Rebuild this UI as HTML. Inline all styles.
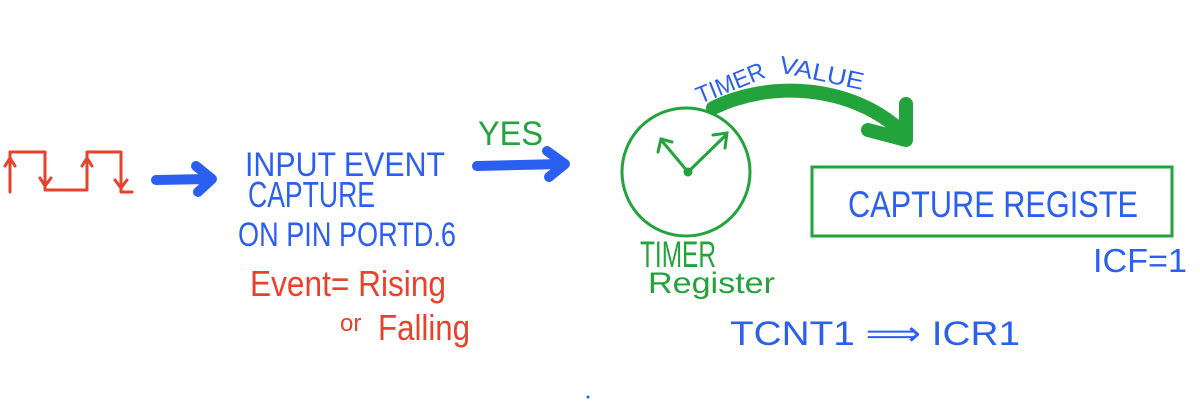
<!DOCTYPE html>
<html><head><meta charset="utf-8"><style>
html,body{margin:0;padding:0;background:#fff;}
svg{display:block}
text{font-family:"Liberation Sans",sans-serif;}
</style></head><body>
<svg width="1200" height="408" viewBox="0 0 1200 408" xmlns="http://www.w3.org/2000/svg">
<!-- square wave -->
<g stroke="#e8412c" stroke-width="3" fill="none" stroke-linecap="round" stroke-linejoin="round">
<path d="M10 192 L10 152 L45 152 L45 190 L87 190 L87 152 L121 152 L121 192 L132 192"/>
<path d="M5 166 L10 158 L15 166"/>
<path d="M40 178 L45 186 L51 178"/>
<path d="M82 166 L87 158 L92 166"/>
<path d="M115 180 L121 188 L127 180"/>
</g>
<!-- blue arrows -->
<g stroke="#2b5ff0" stroke-width="10" fill="none" stroke-linecap="round" stroke-linejoin="round">
<path d="M156 180 L210 179"/>
<path d="M196 166 L212 179 L198 192"/>
<path d="M477 166 L562 164"/>
<path d="M547 151 L565 164 L549 177"/>
</g>
<g fill="#2b5ff0" font-size="34">
<text x="245" y="176" textLength="200" lengthAdjust="spacingAndGlyphs">INPUT EVENT</text>
<text x="248" y="207" font-size="36" textLength="127" lengthAdjust="spacingAndGlyphs">CAPTURE</text>
<text x="238" y="246" textLength="218" lengthAdjust="spacingAndGlyphs">ON PIN PORTD.6</text>
<text x="848" y="217" font-size="37" textLength="290" lengthAdjust="spacingAndGlyphs">CAPTURE REGISTE</text>
<text x="1093" y="272" font-size="33" textLength="94" lengthAdjust="spacingAndGlyphs">ICF=1</text>
<text x="730" y="345" font-size="34" textLength="290" lengthAdjust="spacingAndGlyphs">TCNT1 ⟹ ICR1</text>
<text font-size="24" transform="translate(700,104) rotate(-22)" textLength="72" lengthAdjust="spacingAndGlyphs">TIMER</text>
<text font-size="24" transform="translate(778,72) rotate(12)" textLength="86" lengthAdjust="spacingAndGlyphs">VALUE</text>
</g>
<g fill="#e8412c" font-size="36">
<text x="250" y="296" textLength="196" lengthAdjust="spacingAndGlyphs">Event= Rising</text>
<text x="340" y="331" font-size="24">or</text>
<text x="378" y="340" textLength="92" lengthAdjust="spacingAndGlyphs">Falling</text>
</g>
<text x="478" y="145" fill="#23a33b" font-size="34" textLength="65" lengthAdjust="spacingAndGlyphs">YES</text>
<!-- clock -->
<g stroke="#23a33b" stroke-width="3" fill="none" stroke-linecap="round">
<circle cx="686" cy="172" r="64"/>
<circle cx="688" cy="172" r="3"/>
<path d="M688 172 L662 141 M658 152 L661 139 L672 142"/>
<path d="M688 172 L726 135 M713 135 L727 133 L725 148"/>
<rect x="812" y="167" width="360" height="69"/>
</g>
<!-- green curved arrow -->
<g stroke="#23a33b" stroke-width="14" fill="none" stroke-linecap="round" stroke-linejoin="round">
<path d="M713 108 C770 80 850 85 900 130"/>
<path d="M868 130 L906 140 L906 104"/>
</g>
<g fill="#23a33b" font-size="37">
<text x="640" y="267" textLength="76" lengthAdjust="spacingAndGlyphs">TIMER</text>
<text x="648" y="293" font-size="30" textLength="127" lengthAdjust="spacingAndGlyphs">Register</text>
</g>
<circle cx="588" cy="397" r="1.5" fill="#2b5ff0"/>
</svg>
</body></html>
